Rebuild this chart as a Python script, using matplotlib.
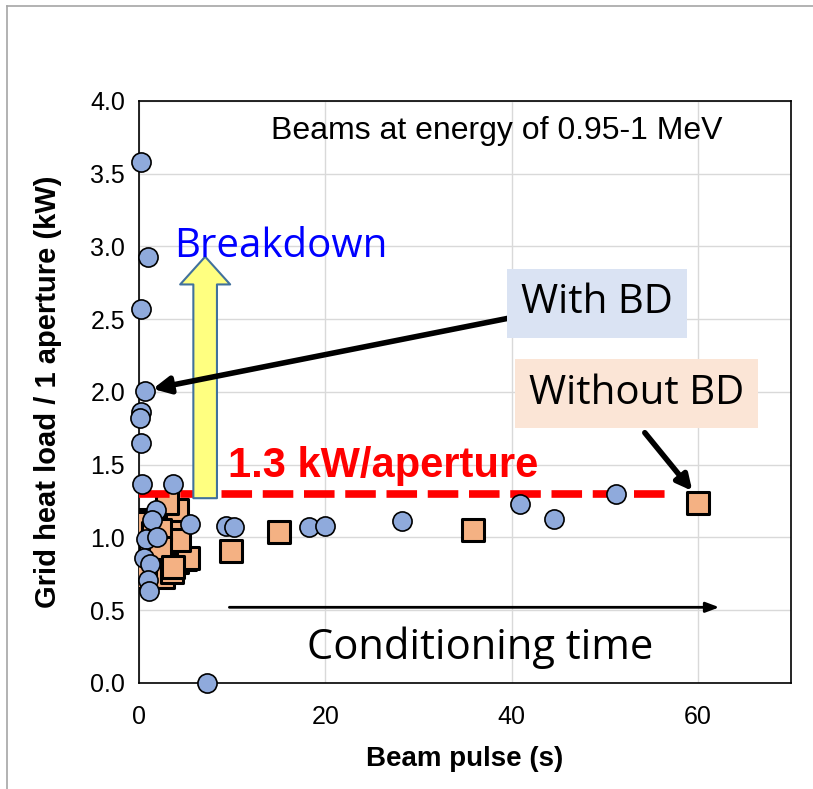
import matplotlib.pyplot as plt
from matplotlib.patches import FancyArrowPatch
from matplotlib.lines import Line2D

# Data: beam pulse (s) vs grid heat load per aperture (kW)
with_bd_x = [0.2, 1.0, 0.2, 0.6, 0.2, 0.1, 0.2, 0.3, 3.7, 1.8, 1.4, 5.5, 0.75, 1.9,
             0.5, 1.2, 1.0, 1.1, 7.3, 9.3, 10.2, 18.2, 20.0, 28.2, 40.9, 44.6, 51.2]
with_bd_y = [3.58, 2.93, 2.57, 2.01, 1.86, 1.82, 1.65, 1.37, 1.37, 1.19, 1.12, 1.09, 0.99, 1.0,
             0.86, 0.82, 0.71, 0.63, 0.0, 1.08, 1.07, 1.07, 1.08, 1.11, 1.23, 1.13, 1.30]

without_bd_x = [0.5, 1.0, 1.5, 0.3, 1.2, 0.9, 2.0, 2.6, 2.6, 3.0, 3.3, 3.3, 3.1, 3.5, 3.9,
                4.1, 4.1, 4.9, 5.3, 4.3, 2.2, 0.6, 3.0, 2.3, 3.6, 9.9, 15.0, 35.9, 60.0]
without_bd_y = [1.12, 1.10, 1.03, 0.95, 0.94, 0.73, 0.88, 0.80, 0.73, 1.15, 1.00, 0.95, 0.89,
                0.76, 1.09, 1.19, 0.83, 0.85, 0.86, 0.98, 1.05, 0.80, 1.24, 0.93, 0.80,
                0.91, 1.04, 1.05, 1.24]

threshold = 1.3

x_ticks = [0, 20, 40, 60]
y_ticks = [0.0, 0.5, 1.0, 1.5, 2.0, 2.5, 3.0, 3.5, 4.0]

narrow = ['Liberation Sans Narrow', 'Liberation Sans', 'DejaVu Sans']
soft = ['Open Sans', 'Liberation Sans', 'DejaVu Sans']

fig = plt.figure(figsize=(8.13, 7.89), dpi=100)
ax = fig.add_axes([0.171, 0.1344, 0.802, 0.7376])

# outer slide frame
fig.add_artist(Line2D([0.009, 1.02], [0.992, 0.992], color='#a6a6a6', lw=1.2))
fig.add_artist(Line2D([0.009, 0.009], [-0.02, 0.992], color='#a6a6a6', lw=1.2))

ax.set_xlim(0, 70)
ax.set_ylim(0, 4.0)
ax.set_xticks(x_ticks)
ax.set_yticks(y_ticks)
ax.set_yticklabels([f'{v:.1f}' for v in y_ticks])
ax.grid(True, color='#d9d9d9', lw=1.0)
ax.set_axisbelow(True)
for s in ax.spines.values():
    s.set_linewidth(1.2)
ax.tick_params(axis='y', length=0, pad=10, labelsize=18)
ax.tick_params(axis='x', length=0, pad=16, labelsize=18)
for lab in ax.get_xticklabels() + ax.get_yticklabels():
    lab.set_family(narrow)

ax.set_xlabel('Beam pulse (s)', fontsize=20, fontweight='bold', family=narrow, labelpad=12)
ax.set_ylabel('Grid heat load / 1 aperture (kW)', fontsize=21, fontweight='bold',
              family=narrow, labelpad=20)

# threshold line
ax.plot([0, 57.3], [threshold, threshold], color='#ff0000', lw=5.5, ls=(0, (4.0, 1.4)),
        zorder=4)
ax.text(9.5, 1.49, '1.3 kW/aperture', color='#ff0000', fontsize=30, fontweight='bold',
        family=['Liberation Sans', 'DejaVu Sans'], va='center', ha='left', zorder=6)

ax.scatter(without_bd_x, without_bd_y, marker='s', s=230, c='#f4b183', edgecolors='black',
           linewidths=2.2, zorder=3)
ax.scatter(with_bd_x, with_bd_y, marker='o', s=190, c='#8faadc', edgecolors='black',
           linewidths=1.2, zorder=5, clip_on=False)

# yellow block arrow
ax.add_patch(FancyArrowPatch((7.1, 1.27), (7.1, 2.93),
                             arrowstyle='simple,head_length=1.0,head_width=1.8,tail_width=0.85',
                             mutation_scale=20, shrinkA=0, shrinkB=0,
                             fc='#ffff80', ec='#41719c', lw=1.5, zorder=6))
ax.text(3.8, 3.0, 'Breakdown', color='#0000ff', fontsize=29, family=soft,
        va='center', ha='left', zorder=7)

ax.text(0.548, 0.948, 'Beams at energy of 0.95-1 MeV', transform=ax.transAxes,
        fontsize=23, family=narrow, ha='center', va='center')

# labelled boxes with arrows
ax.annotate('', xy=(0.6, 2.01), xytext=(39.9, 2.51),
            arrowprops=dict(arrowstyle='-|>,head_length=1.0,head_width=0.5', lw=4,
                            color='black', shrinkA=0, shrinkB=6), zorder=8)
ax.text(49.2, 2.61, 'With BD', fontsize=29, family=soft, ha='center', va='center',
        bbox=dict(boxstyle='square,pad=0.35', fc='#dae3f3', ec='none'), zorder=9)

ax.annotate('', xy=(59.4, 1.32), xytext=(54.3, 1.72),
            arrowprops=dict(arrowstyle='-|>,head_length=0.9,head_width=0.45', lw=4,
                            color='black', shrinkA=0, shrinkB=0), zorder=8)
ax.text(53.4, 1.99, 'Without BD', fontsize=29, family=soft, ha='center', va='center',
        bbox=dict(boxstyle='square,pad=0.35', fc='#fbe5d6', ec='none'), zorder=9)

# conditioning time arrow
ax.annotate('', xy=(62.3, 0.52), xytext=(9.7, 0.52),
            arrowprops=dict(arrowstyle='-|>,head_length=0.8,head_width=0.3', lw=2,
                            color='black', shrinkA=0, shrinkB=0))
ax.text(36.6, 0.24, 'Conditioning time', fontsize=30, family=soft, ha='center', va='center')

fig.savefig('out.png', dpi=100)
